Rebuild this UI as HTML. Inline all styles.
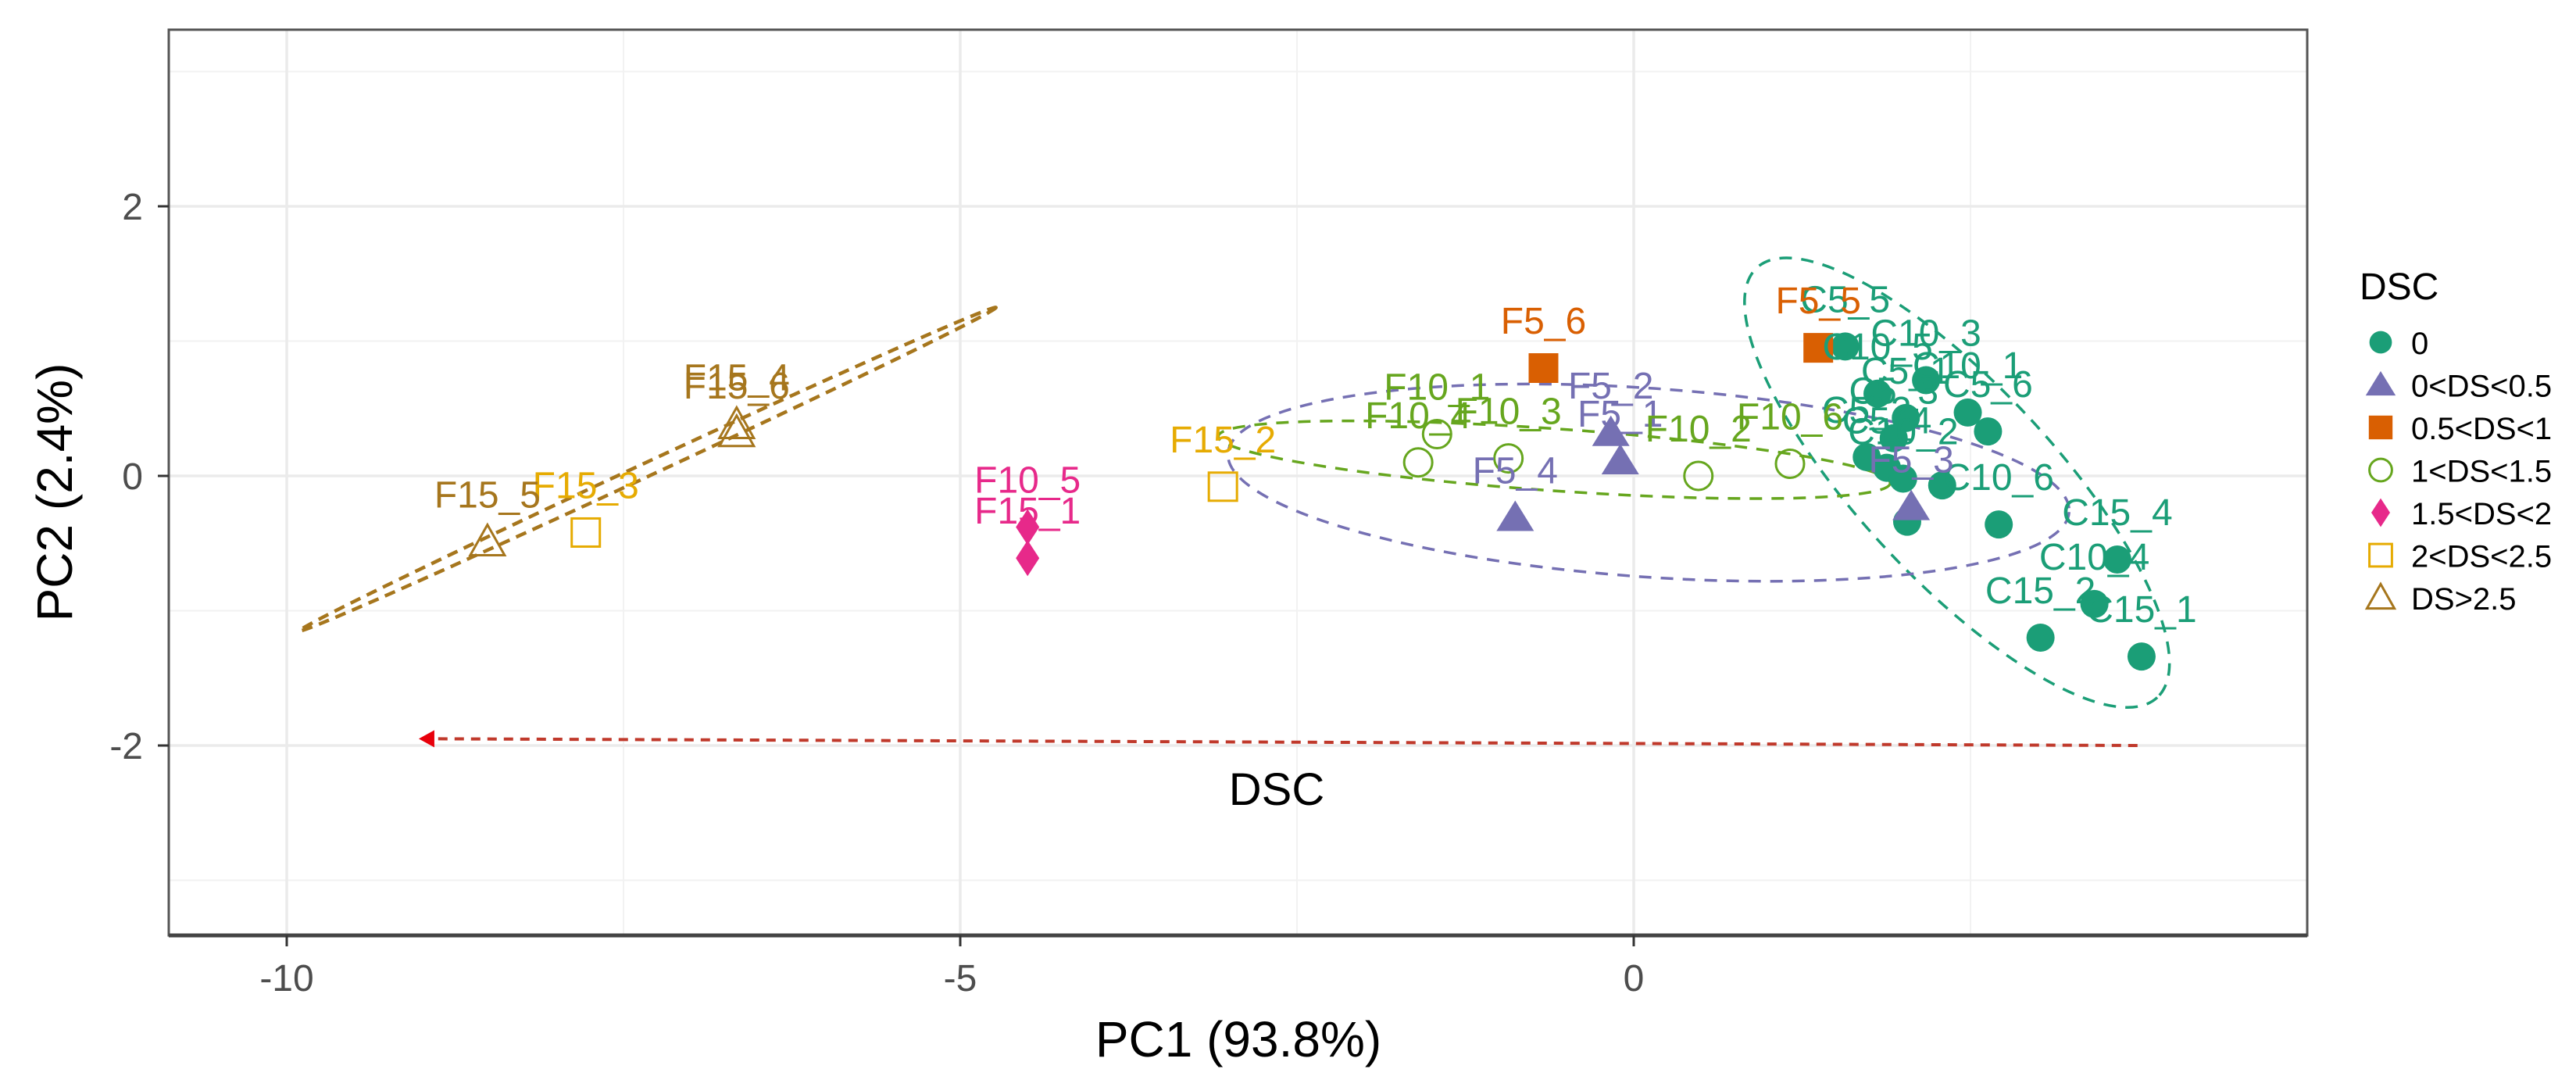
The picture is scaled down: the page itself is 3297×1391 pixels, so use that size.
<!DOCTYPE html>
<html><head><meta charset="utf-8"><style>
html,body{margin:0;padding:0;background:#fff;}
svg{display:block;font-family:"Liberation Sans",Arial,sans-serif;}
</style></head><body>
<svg id="chart" width="3297" height="1391" viewBox="0 0 3297 1391" xmlns="http://www.w3.org/2000/svg">
<g id="grid"></g>
<g id="ellipses"></g>
<g id="arrow"></g>
<g id="points"></g>
<g id="labels"></g>
<g id="axes"></g>
<g id="legend"></g>
</svg>
<script>
const xTicks = [-10, -5, 0];
const xMinor = [-7.5, -2.5, 2.5];
const yTicks = [-2, 0, 2];
const yMinor = [-3, -1, 1, 3];
const groups = ["0", "0<DS<0.5", "0.5<DS<1", "1<DS<1.5", "1.5<DS<2", "2<DS<2.5", "DS>2.5"];
const groupColors = ["#1B9E77", "#7570B3", "#D95F02", "#66A61E", "#E7298A", "#E6AB02", "#A6761D"];
const groupShapes = ["circle", "triangle", "square", "ocircle", "diamond", "osquare", "otriangle"];
const pointNames = ["C5_5","C10_3","C10_5","C10_1","C5_6","C5_1","C5_3","C5_2","C5_4","C10_2","C15_5","C15_6","C10_6","C15_4","C10_4","C15_2","C15_1",
  "F5_2","F5_1","F5_4","F5_3","F5_6","F5_5","F10_1","F10_4","F10_3","F10_2","F10_6","F10_5","F15_1","F15_2","F15_3","F15_4","F15_6","F15_5"];
const pc1 = [1.57,2.17,1.81,2.48,2.63,2.02,1.93,1.73,1.88,2.0,2.29,2.03,2.71,3.59,3.42,3.02,3.77,
  -0.17,-0.1,-0.88,2.06,-0.67,1.37,-1.46,-1.6,-0.93,0.48,1.16,-4.5,-4.5,-3.05,-7.78,-6.66,-6.66,-8.51];
const pc2 = [0.96,0.71,0.61,0.47,0.33,0.43,0.28,0.14,0.06,-0.02,-0.07,-0.34,-0.36,-0.62,-0.95,-1.2,-1.34,
  0.32,0.11,-0.31,-0.23,0.80,0.95,0.31,0.1,0.13,0.0,0.09,-0.38,-0.61,-0.08,-0.42,0.38,0.32,-0.49];
const pointGroup = [0,0,0,0,0,0,0,0,0,0,0,0,0,0,0,0,0, 1,1,1,1, 2,2, 3,3,3,3,3, 4,4, 5,5, 6,6,6];
const showLabel = [1,1,1,1,1,1,1,1,1,1,0,0,1,1,1,1,1, 1,1,1,1,1,1,1,1,1,1,1,1,1,1,1,1,1,1];
const ellGroup = [0, 1, 3, 6];
const ellCx = [2.40, 0.11, -0.59, -7.32];
const ellCy = [-0.05, -0.05, 0.12, 0.05];
const ellA = [2.18, 3.13, 2.5, 2.85];
const ellB = [0.72, 0.70, 0.23, 0.05];
const ellAngle = [-47, -4, -4, 24.9];
const arrowFrom = [3.74, -2.0];
const arrowTo = [-9.02, -1.95];

const NS = "http://www.w3.org/2000/svg";
const L = 216, R = 2953, T = 38, B = 1197;
function sx(v){ return 2091 + 172.4 * v; }
function sy(v){ return 609 - 172.5 * v; }
function mk(tag, attrs, parent){ const e = document.createElementNS(NS, tag); for (const k in attrs) e.setAttribute(k, attrs[k]); parent.appendChild(e); return e; }

const grid = document.getElementById('grid');
mk('rect', {x:L, y:T, width:R-L, height:B-T, fill:'#fff'}, grid);
xMinor.forEach(v => { const e = mk('line', {x1:sx(v), x2:sx(v), y1:T, y2:B, stroke:'#F2F2F2', 'stroke-width':2}, grid);
  
   });
yMinor.forEach(v => { const e = mk('line', {x1:L, x2:R, y1:sy(v), y2:sy(v), stroke:'#F2F2F2', 'stroke-width':2}, grid);
  
   });
xTicks.forEach(v => { const e = mk('line', {x1:sx(v), x2:sx(v), y1:T, y2:B, stroke:'#EBEBEB', 'stroke-width':3.5}, grid);
  
   });
yTicks.forEach(v => { const e = mk('line', {x1:L, x2:R, y1:sy(v), y2:sy(v), stroke:'#EBEBEB', 'stroke-width':3.5}, grid);
  
   });

const eg = document.getElementById('ellipses');
ellGroup.forEach((g, i) => {
  const e = mk('ellipse', {cx:sx(ellCx[i]), cy:sy(ellCy[i]), rx:ellA[i]*172.4, ry:Math.max(ellB[i]*172.5, 2),
    transform:`rotate(${-ellAngle[i]} ${sx(ellCx[i])} ${sy(ellCy[i])})`, fill:'none', stroke:groupColors[g],
    'stroke-width':(g===6?4.5:3.5), 'stroke-dasharray':(g===6?'14 9':'16 12')}, eg);
  
  
});

const ag = document.getElementById('arrow');
const al = mk('line', {x1:sx(arrowFrom[0]), y1:sy(arrowFrom[1]), x2:sx(arrowTo[0])+14, y2:sy(arrowTo[1]), stroke:'#C0392B', 'stroke-width':4, 'stroke-dasharray':'12 9'}, ag);


const ah = mk('polygon', {points:`${sx(arrowTo[0])},${sy(arrowTo[1])} ${sx(arrowTo[0])+20},${sy(arrowTo[1])-11} ${sx(arrowTo[0])+20},${sy(arrowTo[1])+11}`, fill:'#E8000B'}, ag);


const at = mk('text', {x:1634, y:1030, 'font-size':58, 'text-anchor':'middle', fill:'#000'}, ag);
at.textContent = 'DSC';



function drawShape(parent, shape, x, y, c, s){
  let e;
  if (shape==='circle') e = mk('circle', {cx:x, cy:y, r:18*s, fill:c}, parent);
  else if (shape==='ocircle') e = mk('circle', {cx:x, cy:y, r:18*s, fill:'none', stroke:c, 'stroke-width':3}, parent);
  else if (shape==='triangle') e = mk('polygon', {points:`${x},${y-22*s} ${x-24*s},${y+17*s} ${x+24*s},${y+17*s}`, fill:c}, parent);
  else if (shape==='otriangle') e = mk('polygon', {points:`${x},${y-22*s} ${x-22*s},${y+17*s} ${x+22*s},${y+17*s}`, fill:'none', stroke:c, 'stroke-width':3}, parent);
  else if (shape==='square') e = mk('rect', {x:x-19*s, y:y-19*s, width:38*s, height:38*s, fill:c}, parent);
  else if (shape==='osquare') e = mk('rect', {x:x-18*s, y:y-18*s, width:36*s, height:36*s, fill:'none', stroke:c, 'stroke-width':3}, parent);
  else e = mk('polygon', {points:`${x},${y-23*s} ${x+15*s},${y} ${x},${y+23*s} ${x-15*s},${y}`, fill:c}, parent);
  return e;
}
const pg = document.getElementById('points'), lg = document.getElementById('labels');
pc1.forEach((v, i) => {
  const g = pointGroup[i];
  const p = drawShape(pg, groupShapes[g], sx(v), sy(pc2[i]), groupColors[g], 1);
  
  
  if (showLabel[i]) {
    const t = mk('text', {x:sx(v), y:sy(pc2[i]) - 44, 'font-size':48, 'text-anchor':'middle', fill:groupColors[g]}, lg);
    t.textContent = pointNames[i];
    
    
  }
});

const ax = document.getElementById('axes');
mk('rect', {x:L, y:T, width:R-L, height:B-T, fill:'none', stroke:'#555', 'stroke-width':3}, ax);
mk('line', {x1:L, x2:R, y1:B, y2:B, stroke:'#444', 'stroke-width':5}, ax);
xTicks.forEach(v => {
  const tk = mk('line', {x1:sx(v), x2:sx(v), y1:B, y2:B+14, stroke:'#333', 'stroke-width':3}, ax);
  
  
  const t = mk('text', {x:sx(v), y:1268, 'font-size':48, 'text-anchor':'middle', fill:'#4D4D4D'}, ax);
  t.textContent = v;
  
  
});
yTicks.forEach(v => {
  const tk = mk('line', {x1:L-14, x2:L, y1:sy(v), y2:sy(v), stroke:'#333', 'stroke-width':3}, ax);
  
  
  const t = mk('text', {x:183, y:sy(v)+17, 'font-size':48, 'text-anchor':'end', fill:'#4D4D4D'}, ax);
  t.textContent = v;
  
  
});
const xt = mk('text', {x:1585, y:1352, 'font-size':64, 'text-anchor':'middle', fill:'#000'}, ax);
xt.textContent = 'PC1 (93.8%)';


const yt = mk('text', {x:0, y:0, 'font-size':64, 'text-anchor':'middle', fill:'#000', transform:'translate(92 630) rotate(-90)'}, ax);
yt.textContent = 'PC2 (2.4%)';



const lgd = document.getElementById('legend');
const lt = mk('text', {x:3020, y:383, 'font-size':48, fill:'#000'}, lgd);
lt.textContent = 'DSC';


groups.forEach((g, i) => {
  const yy = 438 + i*54.5;
  const s = drawShape(lgd, groupShapes[i], 3047, yy, groupColors[i], 0.8);
  
  
  const t = mk('text', {x:3086, y:yy+15, 'font-size':40, fill:'#000'}, lgd);
  t.textContent = g;
  
  
});
</script>
</body></html>
